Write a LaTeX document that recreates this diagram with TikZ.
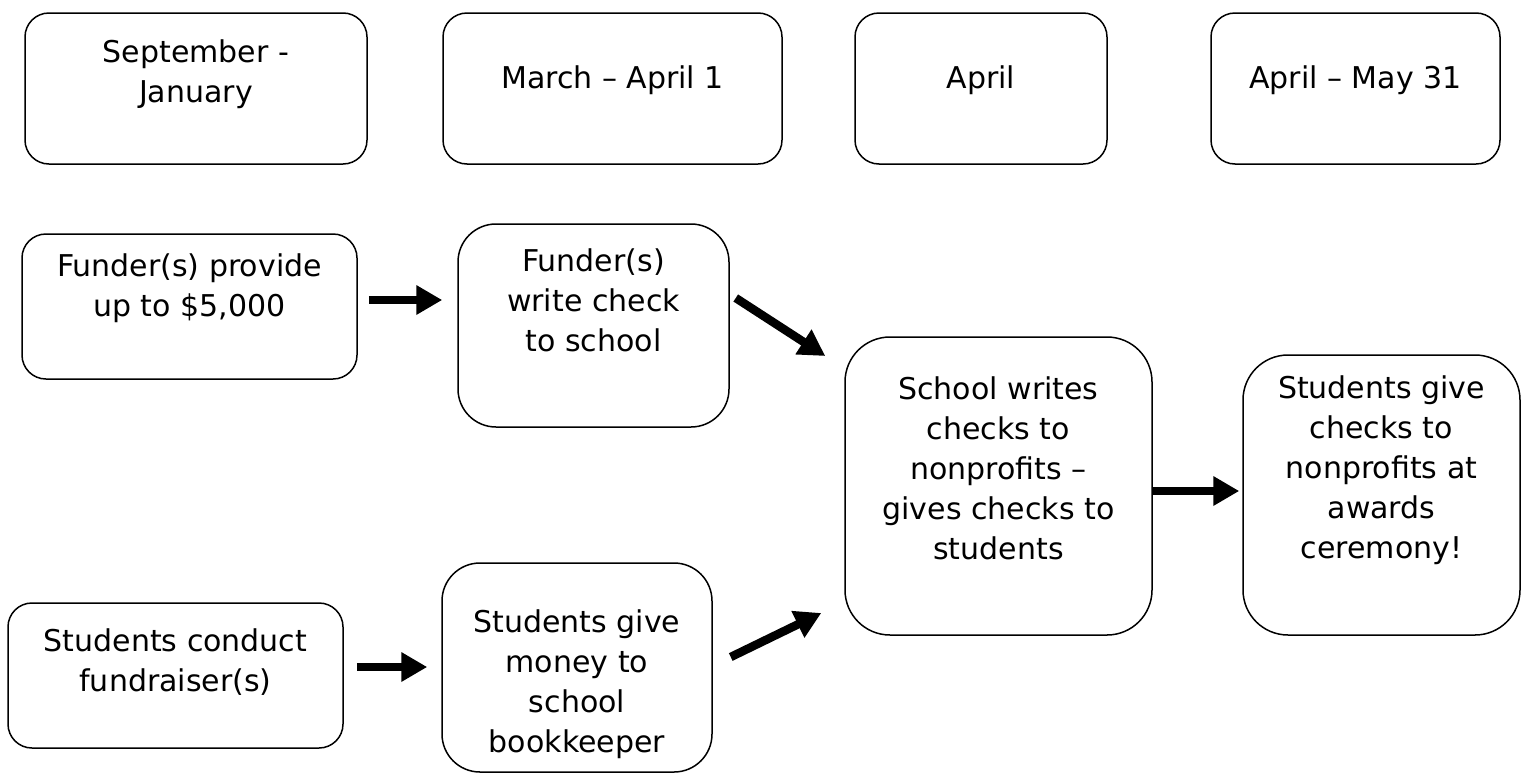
\documentclass[tikz,border=0pt]{standalone}
\usepackage{fontspec}
\setmainfont{DejaVu Sans}
\usetikzlibrary{arrows.meta}
\begin{document}
\begin{tikzpicture}[x=1pt,y=-1pt,
  box/.style={draw,line width=1.5pt,rounded corners=#1,inner sep=0pt},
  box/.default=24pt,
  txt/.style={align=center,inner sep=0pt,font=\fontsize{30}{40}\selectfont},
  flow/.style={line width=8.5pt,-{Triangle[length=26pt,width=28pt]}}]
\useasboundingbox (0,0) rectangle (1525,774);

% timeline headings
\node[box,minimum width=342pt,minimum height=151pt] (h1) at (196,88.5) {};
\node[box,minimum width=339pt,minimum height=151pt] (h2) at (612.5,88.5) {};
\node[box,minimum width=252pt,minimum height=151pt] (h3) at (981,88.5) {};
\node[box,minimum width=289pt,minimum height=151pt] (h4) at (1355.5,88.5) {};
\node[txt] (th1) at (196,74) {September -\\January};
\node[txt] (th2) at (612.5,80) {March – April 1};
\node[txt] (th3) at (981,80) {April};
\node[txt] (th4) at (1355.5,80) {April – May 31};

% process steps
\node[box,minimum width=335pt,minimum height=145pt] (prov) at (189.5,306.5) {};
\node[box=38pt,minimum width=271pt,minimum height=203pt] (chk) at (593.5,325.5) {};
\node[box=45pt,minimum width=307pt,minimum height=298pt] (school) at (998.5,486) {};
\node[box=45pt,minimum width=277pt,minimum height=280pt] (award) at (1381.5,495) {};
\node[box,minimum width=335pt,minimum height=145pt] (cond) at (175.5,675.5) {};
\node[box=38pt,minimum width=270pt,minimum height=209pt] (keep) at (577,667.5) {};

\node[txt] (tprov) at (189.5,288) {Funder(s) provide\\up to \$5,000};
\node[txt] (tchk) at (593.5,300) {Funder(s)\\write check\\to school};
\node[txt] (tschool) at (998.5,468) {School writes\\checks to\\nonprofits –\\gives checks to\\students};
\node[txt] (taward) at (1381.5,470) {Students give\\checks to\\nonprofits at\\awards\\ceremony!};
\node[txt] (tcond) at (175.5,662) {Students conduct\\fundraiser(s)};
\node[txt] (tkeep) at (577,684) {Students give\\money to\\school\\bookkeeper};

% flow arrows
\draw[flow] ([shift={(11,-6.5)}]prov.east) -- ([shift={(-15,-25.5)}]chk.west);
\draw[flow] ([shift={(6,-27.5)}]chk.east) -- ([shift={(-19,-130)}]school.west);
\draw[flow] ([shift={(0,5)}]school.east) -- ([shift={(-3,-4)}]award.west);
\draw[flow] ([shift={(13,-8.5)}]cond.east) -- ([shift={(-14,-0.5)}]keep.west);
\draw[flow] ([shift={(18,-10.5)}]keep.east) -- ([shift={(-23,127)}]school.west);
\end{tikzpicture}
\end{document}
